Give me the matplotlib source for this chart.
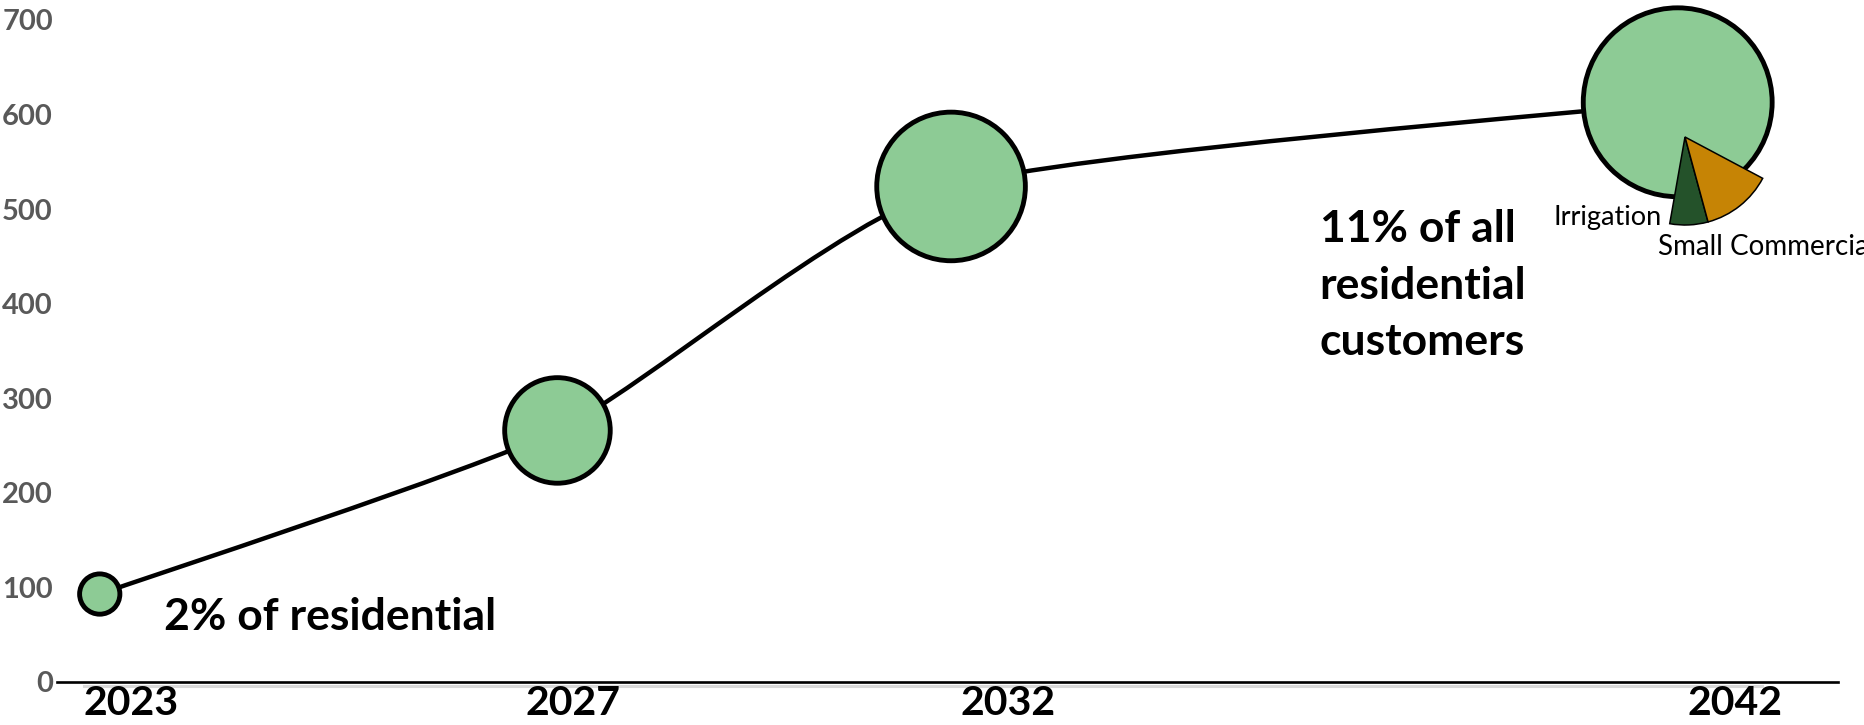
import numpy as np
import matplotlib
matplotlib.use('Agg')
from matplotlib import pyplot as plt
from matplotlib.path import Path
from matplotlib.patches import PathPatch
from matplotlib.lines import Line2D

# Chart data
years = ['2023', '2027', '2032', '2042']
x_pos = [2.4, 28.1, 50.2, 91.0]          # where each bubble sits on the timeline
customers = [93, 266, 524, 613]
bubble_size = [29, 76, 107, 136]
tick_pos = [4.15, 29.0, 53.4, 94.2]
y_ticks = [0, 100, 200, 300, 400, 500, 600, 700]

# 2042 customer mix
mix_labels = ['Residential', 'Irrigation', 'Small Commercial']
mix_share = [80, 7, 13]
mix_colors = ['#8DCB95', '#24522A', '#C68405']

green = '#8DCB95'

fig = plt.figure(figsize=(18.65, 7.25), dpi=100)
ax = fig.add_axes([57 / 1865, 43 / 725, 1781 / 1865, 662 / 725])
ax.set_xlim(0, 100)
ax.set_ylim(0, 700)

# Lightly smoothed connecting line (short bezier handles)
k = 0.1
pts = np.column_stack([x_pos, customers]).astype(float)
ext = np.vstack([pts[0], pts, pts[-1]])
verts = [pts[0]]
codes = [Path.MOVETO]
for i in range(len(pts) - 1):
    p0, p1, p2, p3 = ext[i], ext[i + 1], ext[i + 2], ext[i + 3]
    verts += [p1 + (p2 - p0) * k, p2 - (p3 - p1) * k, p2]
    codes += [Path.CURVE4] * 3
ax.add_patch(PathPatch(Path(verts, codes), fill=False, lw=3.2, ec='black',
                       capstyle='round', zorder=2))

# Bubbles
ax.scatter(x_pos, customers, s=np.array(bubble_size) ** 2, c=green,
           edgecolors='black', linewidths=3.5, zorder=3, clip_on=False)

# Axes styling
for side in ['left', 'right', 'top']:
    ax.spines[side].set_visible(False)
ax.spines['bottom'].set_color('black')
ax.spines['bottom'].set_linewidth(1.9)
ax.set_yticks(y_ticks)
ax.set_yticklabels([str(v) for v in y_ticks], fontfamily='Lato',
                   fontweight='bold', fontsize=21, color='#595959')
ax.set_xticks(tick_pos)
ax.set_xticklabels(years, fontfamily='Lato', fontweight='bold', fontsize=29.5)
ax.tick_params(axis='y', length=0, pad=3)
ax.tick_params(axis='x', length=0, pad=2.5)

# faint gray category axis line under the black one
fig.add_artist(Line2D([84 / 1865, 1762 / 1865], [39.5 / 725, 39.5 / 725],
                      transform=fig.transFigure, color='#D9D9D9', lw=2.2, zorder=0))

# Annotations
ax.text(6.0, 69, '2% of residential', fontfamily='Lato', fontweight='bold',
        fontsize=32, va='center', ha='left')
ax.text(70.9, 500, '11% of all\nresidential\ncustomers', fontfamily='Lato',
        fontweight='bold', fontsize=32, va='top', ha='left', linespacing=1.5)

# Customer mix pie on the 2042 bubble
pax = fig.add_axes([(1685 - 88) / 1865, (725 - 137 - 88) / 725, 176 / 1865, 176 / 725])
wedges, _ = pax.pie(mix_share, colors=mix_colors, startangle=332, counterclock=True,
                    radius=1, wedgeprops=dict(edgecolor='black', linewidth=1.1))
wedges[0].set_visible(False)
pax.set_xlim(-1, 1)
pax.set_ylim(-1, 1)
pax.set_aspect('equal')
pax.axis('off')

ax.text(90.1, 491.5, mix_labels[1], fontfamily='Lato', fontsize=19.5,
        va='center', ha='right')
ax.text(89.9, 460, mix_labels[2], fontfamily='Lato', fontsize=20,
        va='center', ha='left', clip_on=False)

fig.savefig('out.png', dpi=100)
